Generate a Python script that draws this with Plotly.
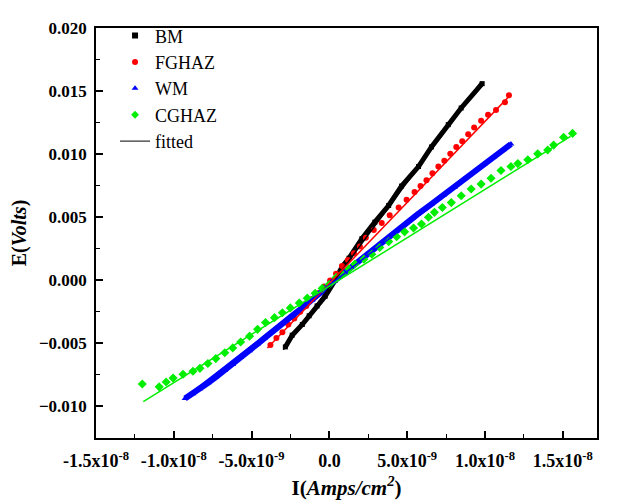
import plotly.graph_objects as go

# Current density in units of 1e-9 A/cm^2, potential in mV
bm_i = [-2.83, -2.39, -1.74, -1.30, -0.79, -0.27, 0.36, 0.81, 1.26, 2.09, 2.92, 3.81,
        4.64, 5.73, 6.56, 7.64, 8.47, 9.82]
bm_e = [-5.28, -4.35, -3.50, -2.81, -2.03, -1.26, -0.02, 1.06, 1.75, 3.30, 4.61, 5.93,
        7.47, 9.02, 10.57, 12.34, 13.66, 15.59]

fg_i = [-3.787, -3.404, -3.021, -2.637, -2.254, -1.871, -1.488, -1.105, -0.722, -0.338,
        0.045, 0.428, 0.811, 1.194, 1.577, 1.960, 2.343, 2.854, 3.365, 3.876, 4.451,
        4.962, 5.473, 5.856, 6.239, 6.622, 7.005, 7.388, 7.771, 8.155, 8.538, 8.921,
        9.304, 9.751, 10.198, 10.709, 11.284, 11.540]
fg_e = [-5.124, -4.583, -4.119, -3.501, -3.037, -2.496, -2.032, -1.491, -1.027, -0.487,
        -0.023, 0.518, 1.136, 1.600, 2.141, 2.682, 3.377, 3.995, 4.536, 5.154, 5.773,
        6.391, 7.009, 7.473, 7.937, 8.478, 9.019, 9.482, 10.023, 10.564, 11.028, 11.569,
        12.110, 12.651, 13.115, 13.501, 14.120, 14.661]

wm_i = [-9.279, -8.768, -8.321, -7.810, -7.299, -6.724, -6.213, -5.702, -5.128, -4.617,
        -4.170, -3.659, -3.021, -2.382, -1.743, -1.105, -0.466, 0.172, 0.939, 1.641,
        2.408, 3.174, 4.004, 4.834, 5.664, 6.558, 7.325, 8.027, 8.666, 9.304, 9.943,
        10.581, 11.156, 11.667]
wm_e = [-9.374, -8.987, -8.601, -8.137, -7.674, -7.133, -6.669, -6.128, -5.587, -5.046,
        -4.583, -4.042, -3.423, -2.805, -2.187, -1.569, -0.873, -0.178, 0.595, 1.329,
        2.063, 2.798, 3.609, 4.420, 5.232, 6.043, 6.739, 7.357, 8.053, 8.632, 9.212,
        9.791, 10.332, 10.796]

cg_i = [-12.025, -10.939, -10.492, -10.045, -9.407, -8.768, -8.321, -7.810, -7.299, -6.724,
        -6.213, -5.702, -5.128, -4.617, -4.106, -3.531, -3.021, -2.510, -1.935, -1.424,
        -0.913, -0.466, -0.019, 0.428, 0.811, 1.258, 1.641, 2.216, 2.727, 3.238, 3.812,
        4.323, 4.834, 5.409, 5.920, 6.367, 6.750, 7.261, 7.836, 8.474, 9.113, 9.751,
        10.390, 11.029, 11.667, 12.114, 12.753, 13.391, 14.030, 14.413, 15.052, 15.627]
cg_e = [-8.215, -8.447, -8.060, -7.751, -7.442, -7.210, -6.978, -6.592, -6.206, -5.742,
        -5.356, -4.892, -4.428, -3.887, -3.346, -2.960, -2.574, -2.187, -1.801, -1.414,
        -1.028, -0.641, -0.332, 0.209, 0.518, 0.904, 1.291, 1.677, 2.063, 2.604, 3.068,
        3.454, 3.841, 4.150, 4.459, 5.000, 5.386, 5.773, 6.159, 6.700, 7.241, 7.627,
        8.091, 8.709, 9.019, 9.251, 9.560, 10.023, 10.332, 10.719, 11.337, 11.646]

# fitted line endpoints (same units)
bm_fit_i = [-2.96, 9.75]
bm_fit_e = [-5.51, 15.72]
fg_fit_i = [-3.98, 11.67]
fg_fit_e = [-5.36, 14.74]
wm_fit_i = [-9.22, 11.67]
wm_fit_e = [-9.22, 10.80]
cg_fit_i = [-11.96, 15.50]
cg_fit_e = [-9.61, 11.41]

x_ticks = [-1.5e-8, -1.0e-8, -5.0e-9, 0.0, 5.0e-9, 1.0e-8, 1.5e-8]
x_tick_text = ["-1.5x10<sup>-8</sup>", "-1.0x10<sup>-8</sup>", "-5.0x10<sup>-9</sup>", "0.0",
               "5.0x10<sup>-9</sup>", "1.0x10<sup>-8</sup>", "1.5x10<sup>-8</sup>"]

def A(v):
    return [a * 1e-9 for a in v]

def V(v):
    return [a * 1e-3 for a in v]

FONT = "Liberation Serif, Times New Roman, serif"
fig = go.Figure()

series = [
    ("BM", bm_i, bm_e, "#000000", "square", 5, 5),
    ("FGHAZ", fg_i, fg_e, "#ff0000", "circle", 6, 0),
    ("WM", wm_i, wm_e, "#0000ff", "triangle-up", 6, 6),
    ("CGHAZ", cg_i, cg_e, "#00ee00", "diamond", 7, 0),
]
fits = [
    (bm_fit_i, bm_fit_e, "#000000"),
    (fg_fit_i, fg_fit_e, "#ff0000"),
    (wm_fit_i, wm_fit_e, "#0000ff"),
    (cg_fit_i, cg_fit_e, "#00ee00"),
]

for name, xi, ye, col, sym, ms, lw in series:
    fig.add_trace(go.Scatter(
        x=A(xi), y=V(ye), name=name,
        mode="lines+markers" if lw > 0 else "markers",
        line=dict(color=col, width=lw) if lw > 0 else None,
        marker=dict(color=col, symbol=sym, size=ms),
        showlegend=False))
    fig.add_trace(go.Scatter(
        x=[None], y=[None], name=name, mode="markers",
        marker=dict(color=col, symbol=sym, size=6), showlegend=True))

for xi, ye, col in fits:
    fig.add_trace(go.Scatter(x=A(xi), y=V(ye), mode="lines",
                             line=dict(color=col, width=1.5), showlegend=False))

fig.add_trace(go.Scatter(x=[None], y=[None], name="fitted", mode="lines",
                         line=dict(color="#333333", width=1.2), showlegend=True))

fig.update_layout(
    width=620, height=501,
    margin=dict(l=84, r=31, t=9, b=71),
    paper_bgcolor="white", plot_bgcolor="white",
    font=dict(family=FONT, color="black"),
    legend=dict(x=0.038, y=1.026, xanchor="left", yanchor="top",
                bgcolor="rgba(0,0,0,0)", font=dict(family=FONT, size=18),
                tracegroupgap=0),
    xaxis=dict(
        range=[-1.5e-8, 1.72e-8], tickmode="array", tickvals=x_ticks,
        ticktext=["<b>" + t + "</b>" for t in x_tick_text],
        tickfont=dict(family=FONT, size=18),
        ticklabelstandoff=6,
        ticks="inside", ticklen=7, tickwidth=1.5, tickcolor="black",
        minor=dict(ticks="inside", ticklen=4, dtick=2.5e-9, tickwidth=1.2, tickcolor="black"),
        showline=True, linecolor="black", linewidth=1.5, mirror=True,
        showgrid=False, zeroline=False,
        title=dict(text="<b>I(<i>Amps/cm<sup>2</sup></i>)</b>",
                   font=dict(family=FONT, size=21), standoff=10),
    ),
    yaxis=dict(
        range=[-0.0125, 0.020], tickmode="linear", tick0=0, dtick=0.005,
        tickformat=".3f",
        tickfont=dict(family=FONT, size=17, weight="bold"),
        ticklabelstandoff=4,
        ticks="inside", ticklen=7, tickwidth=1.5, tickcolor="black",
        minor=dict(ticks="inside", ticklen=4, dtick=0.0025, tickwidth=1.2, tickcolor="black"),
        showline=True, linecolor="black", linewidth=1.5, mirror=True,
        showgrid=False, zeroline=False,
        title=dict(text="<b>E(<i>Volts</i>)</b>",
                   font=dict(family=FONT, size=20), standoff=8),
    ),
)

fig.write_html("out.html")
